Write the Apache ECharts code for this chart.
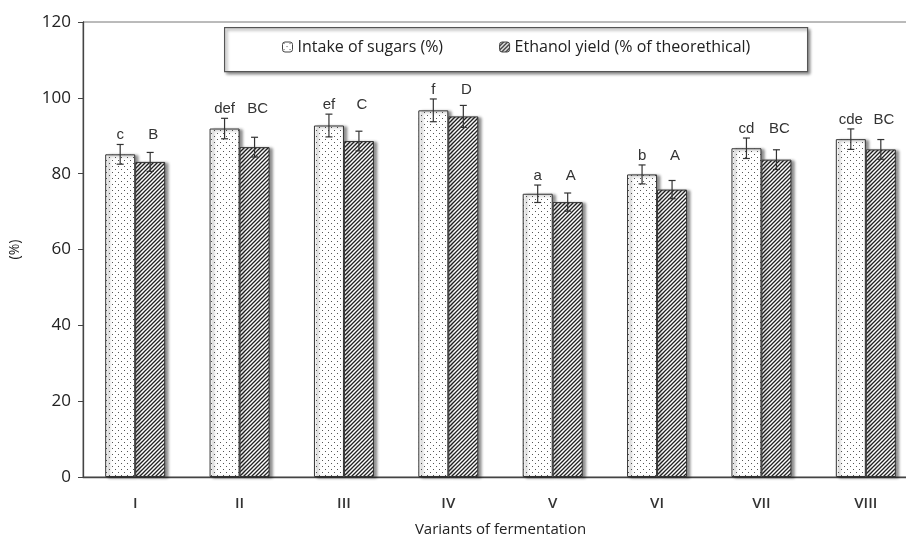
<!DOCTYPE html>
<html>
<head>
<meta charset="utf-8">
<script src="https://cdn.jsdelivr.net/npm/echarts@6/dist/echarts.min.js"></script>
<style>
html,body{margin:0;padding:0;background:#fff;}
#chart{width:906px;height:539px;}
</style>
</head>
<body>
<div id="chart"></div>
<script>
// ---- data ----
const categories = ['I', 'II', 'III', 'IV', 'V', 'VI', 'VII', 'VIII'];
const sugars = [85.1, 91.9, 92.7, 96.7, 74.7, 79.8, 86.7, 89.1];
const ethanol = [83.1, 87.0, 88.6, 95.1, 72.5, 75.8, 83.7, 86.4];
const sugarsErr = [2.6, 2.7, 3.0, 3.0, 2.3, 2.5, 2.7, 2.7];
const ethanolErr = [2.5, 2.6, 2.6, 2.9, 2.4, 2.4, 2.6, 2.6];
const sugarsLetters = ['c', 'def', 'ef', 'f', 'a', 'b', 'cd', 'cde'];
const ethanolLetters = ['B', 'BC', 'C', 'D', 'A', 'A', 'BC', 'BC'];
const seriesNames = ['Intake of sugars (%)', 'Ethanol yield (% of theorethical)'];
const yMin = 0, yMax = 120, yInterval = 20;

// ---- patterns ----
function dotPattern() {
  const c = document.createElement('canvas');
  c.width = 6; c.height = 6;
  const g = c.getContext('2d');
  g.fillStyle = '#fff'; g.fillRect(0, 0, 6, 6);
  g.fillStyle = '#555';
  g.fillRect(1, 1, 1, 1);
  g.fillRect(4, 4, 1, 1);
  return c;
}
function hatchPattern() {
  const c = document.createElement('canvas');
  c.width = 4; c.height = 4;
  const g = c.getContext('2d');
  g.fillStyle = '#fff'; g.fillRect(0, 0, 4, 4);
  g.strokeStyle = '#222'; g.lineWidth = 1.3;
  g.beginPath();
  g.moveTo(-1, 5); g.lineTo(5, -1);
  g.moveTo(-1, 1); g.lineTo(1, -1);
  g.moveTo(3, 5); g.lineTo(5, 3);
  g.stroke();
  return c;
}

const BAR_W = 30;
const chart = echarts.init(document.getElementById('chart'), null, {renderer: 'canvas'});
const font = 'Open Sans';

const barShadow = {
  shadowColor: 'rgba(0,0,0,0.45)', shadowBlur: 3, shadowOffsetX: 3, shadowOffsetY: 1
};

function renderErr(params, api) {
  const i = api.value(0);
  const cx = api.coord([i, 0])[0];
  const children = [];
  const sets = [
    {v: sugars[i], e: sugarsErr[i], off: -BAR_W / 2, t: sugarsLetters[i], tdx: 0},
    {v: ethanol[i], e: ethanolErr[i], off: BAR_W / 2, t: ethanolLetters[i], tdx: 3}
  ];
  let topMost = Infinity;
  sets.forEach(s => {
    const x = cx + s.off;
    const yt = api.coord([i, s.v + s.e])[1];
    const yb = api.coord([i, s.v - s.e])[1];
    topMost = Math.min(topMost, yt);
    const st = {stroke: '#333', lineWidth: 1.2};
    children.push({type: 'line', shape: {x1: x, y1: yt, x2: x, y2: yb}, style: st});
    children.push({type: 'line', shape: {x1: x - 3.5, y1: yt, x2: x + 3.5, y2: yt}, style: st});
    children.push({type: 'line', shape: {x1: x - 3.5, y1: yb, x2: x + 3.5, y2: yb}, style: st});
  });
  sets.forEach(s => {
    children.push({
      type: 'text',
      style: {
        x: cx + s.off + s.tdx, y: topMost - 2, text: s.t,
        textAlign: 'center', textVerticalAlign: 'bottom',
        fill: '#333', font: '15px "Liberation Sans", Arial, sans-serif'
      }
    });
  });
  return {type: 'group', children: children};
}

const option = {
  animation: false,
  backgroundColor: '#fff',
  grid: {
    left: 83, right: -12, top: 22, bottom: 62,
    outerBoundsMode: 'none', containLabel: false,
    show: true, borderColor: '#777', borderWidth: 1, backgroundColor: 'transparent'
  },
  graphic: [{
    type: 'rect', left: 224, top: 27, z: 0,
    shape: {width: 583, height: 44},
    style: {fill: '#fff', stroke: '#555', lineWidth: 1.2,
      shadowColor: 'rgba(0,0,0,0.45)', shadowBlur: 3, shadowOffsetX: 2, shadowOffsetY: 2}
  }],
  legend: {
    left: 282, top: 39, z: 10,
    itemWidth: 10, itemHeight: 10, itemGap: 56,
    padding: 0,
    textStyle: {fontFamily: font, fontSize: 16, color: '#222', padding: [0, 0, 0, 0]},
    itemStyle: {shadowBlur: 0, shadowOffsetX: 0, shadowOffsetY: 0, borderWidth: 1, borderColor: '#444'},
    data: seriesNames
  },
  xAxis: {
    type: 'category', data: categories,
    name: 'Variants of fermentation', nameLocation: 'middle', nameGap: 45,
    nameTextStyle: {fontFamily: font, fontSize: 15, color: '#222'},
    axisLine: {lineStyle: {color: '#444', width: 1.3}},
    axisTick: {length: 5, lineStyle: {color: '#444'}},
    axisLabel: {fontFamily: font, fontSize: 15, fontWeight: 600, color: '#333', margin: 19}
  },
  yAxis: {
    type: 'value', min: yMin, max: yMax, interval: yInterval,
    name: '(%)', nameLocation: 'middle', nameGap: 61,
    nameTextStyle: {fontFamily: font, fontSize: 14, color: '#222'},
    splitLine: {show: false},
    axisLine: {show: true, lineStyle: {color: '#444', width: 1.3}},
    axisTick: {show: true, length: 5, lineStyle: {color: '#444'}},
    axisLabel: {fontFamily: font, fontSize: 17, color: '#222', margin: 12}
  },
  series: [
    {
      name: seriesNames[0], type: 'bar', data: sugars,
      barWidth: BAR_W, barGap: '0%',
      itemStyle: Object.assign({color: {image: dotPattern(), repeat: 'repeat'}, borderColor: '#333', borderWidth: 1}, barShadow)
    },
    {
      name: seriesNames[1], type: 'bar', data: ethanol,
      barWidth: BAR_W, barGap: '0%',
      itemStyle: Object.assign({color: {image: hatchPattern(), repeat: 'repeat'}, borderColor: '#333', borderWidth: 1}, barShadow)
    },
    {
      type: 'custom', name: 'err', renderItem: renderErr, z: 10, clip: false,
      encode: {x: 0, y: 1},
      data: categories.map((c, i) => [i, Math.max(sugars[i] + sugarsErr[i], ethanol[i] + ethanolErr[i])]),
      silent: true
    }
  ]
};
chart.setOption(option);
</script>
</body>
</html>
